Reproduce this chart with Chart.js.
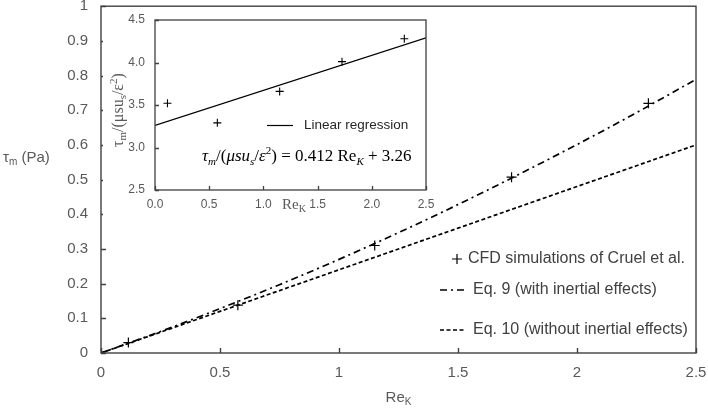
<!DOCTYPE html>
<html><head><meta charset="utf-8">
<script src="https://cdn.jsdelivr.net/npm/chart.js@4.4.0/dist/chart.umd.min.js"></script>
<style>
html,body{margin:0;padding:0;background:#fff;}
#wrap{position:relative;width:708px;height:413px;overflow:hidden;}
#main{position:absolute;left:0;top:0;}
#inset{position:absolute;left:103px;top:8px;}
</style></head><body>
<div id="wrap">
<canvas id="main" width="708" height="413"></canvas>
<canvas id="inset" width="340" height="210"></canvas>
</div>
<script>
// ---- data ----
const reK = [0.115, 0.575, 1.15, 1.725, 2.3];
const tauCFD = [0.03, 0.138, 0.31, 0.507, 0.72];
const eqRe = [0, 0.25, 0.5, 0.75, 1, 1.25, 1.5, 1.75, 2, 2.25, 2.5];
const tauEq9 = [0, 0.062, 0.128, 0.197, 0.270, 0.347, 0.428, 0.513, 0.601, 0.693, 0.789];
const tauEq10 = [0, 0.06, 0.12, 0.18, 0.24, 0.30, 0.36, 0.42, 0.48, 0.54, 0.60];
const mainXTicks = [0, 0.5, 1, 1.5, 2, 2.5];
const mainXLabels = ['0', '0.5', '1', '1.5', '2', '2.5'];
const mainYTicks = [0, 0.1, 0.2, 0.3, 0.4, 0.5, 0.6, 0.7, 0.8, 0.9, 1];
const mainYLabels = ['0', '0.1', '0.2', '0.3', '0.4', '0.5', '0.6', '0.7', '0.8', '0.9', '1'];

const insetRe = [0.115, 0.575, 1.15, 1.725, 2.3];
const insetNorm = [3.52, 3.29, 3.66, 4.01, 4.28];
const regRe = [0, 2.5];
const regNorm = [3.26, 4.29];
const insetXTicks = [0, 0.5, 1, 1.5, 2, 2.5];
const insetXLabels = ['0.0', '0.5', '1.0', '1.5', '2.0', '2.5'];
const insetYTicks = [2.5, 3, 3.5, 4, 4.5];
const insetYLabels = ['2.5', '3.0', '3.5', '4.0', '4.5'];

const legendLabels = ['CFD simulations of Cruel et al.', 'Eq. 9 (with inertial effects)', 'Eq. 10 (without inertial effects)'];

// ---- helpers ----
const SANS = '"Liberation Sans", Arial, sans-serif';
const SERIF = '"Liberation Serif", "Times New Roman", serif';
const AXIS = '#404040';
const TICK = '#595959';

function pts(xs, ys) { return xs.map((x, i) => ({x: x, y: ys[i]})); }

function drawRuns(ctx, x, y, runs, align) {
  let total = 0;
  runs.forEach(r => { ctx.font = r.font; total += ctx.measureText(r.t).width; });
  let cx = align === 'center' ? x - total / 2 : x;
  ctx.textAlign = 'left';
  ctx.textBaseline = 'alphabetic';
  runs.forEach(r => {
    ctx.font = r.font; ctx.fillStyle = r.color || '#000';
    ctx.fillText(r.t, cx, y + (r.dy || 0));
    cx += ctx.measureText(r.t).width;
  });
}

function noPadX(s, h) { s.height = h; s.paddingLeft = 0; s.paddingRight = 0; }
function noPadY(s, w) { s.width = w; s.paddingTop = 0; s.paddingBottom = 0; }

function framePlugin(id, tickLen, lw, bgWidth, extra) {
  return {
    id: id,
    beforeDraw(chart) {
      const ctx = chart.ctx;
      ctx.save(); ctx.fillStyle = '#fff';
      ctx.fillRect(0, 0, bgWidth || chart.width, chart.height); ctx.restore();
    },
    afterDatasetsDraw(chart) {
      const ctx = chart.ctx, a = chart.chartArea;
      const xs = chart.scales.x, ys = chart.scales.y;
      ctx.save();
      ctx.strokeStyle = AXIS; ctx.lineWidth = lw; ctx.setLineDash([]);
      ctx.strokeRect(a.left, a.top, a.right - a.left, a.bottom - a.top);
      ctx.beginPath();
      xs.ticks.forEach(t => {
        const px = Math.round(xs.getPixelForValue(t.value)) + 0.5;
        ctx.moveTo(px, a.bottom); ctx.lineTo(px, a.bottom - tickLen);
      });
      ys.ticks.forEach(t => {
        const py = Math.round(ys.getPixelForValue(t.value)) + 0.5;
        ctx.moveTo(a.left, py); ctx.lineTo(a.left + tickLen, py);
      });
      ctx.stroke();
      ctx.restore();
    },
    afterDraw(chart) { if (extra) extra(chart); }
  };
}

// ---- main chart ----
function mainExtra(chart) {
  const ctx = chart.ctx;
  ctx.save();
  drawRuns(ctx, 3, 162, [
    {t: 'τ', font: '15px ' + SANS, color: TICK},
    {t: 'm', font: '10px ' + SANS, color: TICK, dy: 3},
    {t: ' (Pa)', font: '15px ' + SANS, color: TICK}
  ], 'left');
  const xc = (chart.chartArea.left + chart.chartArea.right) / 2;
  drawRuns(ctx, xc, 402, [
    {t: 'Re', font: '15px ' + SANS, color: TICK},
    {t: 'K', font: '10px ' + SANS, color: TICK, dy: 3}
  ], 'center');
  const ds = chart.data.datasets;
  const ly = [259, 290, 330];
  ctx.strokeStyle = '#000'; ctx.lineWidth = 1.2; ctx.setLineDash([]);
  ctx.beginPath();
  ctx.moveTo(452, ly[0]); ctx.lineTo(462, ly[0]);
  ctx.moveTo(457, ly[0] - 5); ctx.lineTo(457, ly[0] + 5);
  ctx.stroke();
  [1, 2].forEach(i => {
    ctx.beginPath();
    ctx.lineWidth = ds[i].borderWidth;
    ctx.setLineDash(ds[i].borderDash);
    ctx.moveTo(440, ly[i]); ctx.lineTo(464, ly[i]);
    ctx.stroke();
  });
  ctx.setLineDash([]);
  ctx.font = '16px ' + SANS; ctx.fillStyle = AXIS;
  ctx.textBaseline = 'middle'; ctx.textAlign = 'left';
  ctx.fillText(ds[0].label, 468, ly[0]);
  ctx.fillText(ds[1].label, 473, ly[1]);
  ctx.fillText(ds[2].label, 473, ly[2]);
  ctx.restore();
}

new Chart(document.getElementById('main'), {
  type: 'scatter',
  data: {
    datasets: [
      {label: legendLabels[0], data: pts(reK, tauCFD), showLine: false,
       pointStyle: 'cross', pointRadius: 5, borderColor: '#000', borderWidth: 1.2},
      {label: legendLabels[1], data: pts(eqRe, tauEq9), showLine: true, pointRadius: 0,
       borderColor: '#000', borderWidth: 1.7, borderDash: [7, 4, 2, 4], fill: false,
       cubicInterpolationMode: 'monotone'},
      {label: legendLabels[2], data: pts(eqRe, tauEq10), showLine: true, pointRadius: 0,
       borderColor: '#000', borderWidth: 1.7, borderDash: [4, 2.5], fill: false}
    ]
  },
  options: {
    responsive: false, animation: false, devicePixelRatio: 1,
    layout: {padding: {top: 6, right: 12, left: 0, bottom: 0}},
    plugins: {legend: {display: false}, tooltip: {enabled: false}},
    scales: {
      x: {
        type: 'linear', min: 0, max: 2.5,
        afterBuildTicks: s => { s.ticks = mainXTicks.map(v => ({value: v})); },
        ticks: {callback: (v, i) => mainXLabels[i], color: TICK, font: {family: SANS, size: 15}, padding: 11, maxRotation: 0},
        grid: {display: false, drawTicks: false}, border: {display: false},
        afterFit: s => noPadX(s, 60)
      },
      y: {
        type: 'linear', min: 0, max: 1,
        afterBuildTicks: s => { s.ticks = mainYTicks.map(v => ({value: v})); },
        ticks: {callback: (v, i) => mainYLabels[i], color: TICK, font: {family: SANS, size: 15}, padding: 13},
        grid: {display: false, drawTicks: false}, border: {display: false},
        afterFit: s => noPadY(s, 101)
      }
    }
  },
  plugins: [framePlugin('mainFrame', 5, 1.4, 0, mainExtra)]
});

// ---- inset chart ----
function insetExtra(chart) {
  const ctx = chart.ctx;
  ctx.save();
  ctx.translate(20, 102);
  ctx.rotate(-Math.PI / 2);
  drawRuns(ctx, 0, 0, [
    {t: 'τ', font: '16px ' + SERIF, color: TICK},
    {t: 'm', font: '11px ' + SERIF, color: TICK, dy: 3},
    {t: '/(μsu', font: '16px ' + SERIF, color: TICK},
    {t: 's', font: '11px ' + SERIF, color: TICK, dy: 3},
    {t: '/ε', font: '16px ' + SERIF, color: TICK},
    {t: '2', font: '11px ' + SERIF, color: TICK, dy: -6},
    {t: ')', font: '16px ' + SERIF, color: TICK}
  ], 'center');
  ctx.restore();
  ctx.save();
  drawRuns(ctx, 191, 201, [
    {t: 'Re', font: '15px ' + SERIF, color: TICK},
    {t: 'K', font: '10px ' + SERIF, color: TICK, dy: 3}
  ], 'center');
  ctx.strokeStyle = '#000'; ctx.lineWidth = 1.2; ctx.setLineDash([]);
  ctx.beginPath(); ctx.moveTo(164, 117.5); ctx.lineTo(190, 117.5); ctx.stroke();
  ctx.font = '13.5px ' + SANS; ctx.fillStyle = '#262626';
  ctx.textBaseline = 'middle'; ctx.textAlign = 'left';
  ctx.fillText(chart.data.datasets[1].label, 201, 117);
  const I = 'italic 17px ' + SERIF, R = '17px ' + SERIF, Is = 'italic 11px ' + SERIF, Rs = '11px ' + SERIF;
  drawRuns(ctx, 99, 153, [
    {t: 'τ', font: I}, {t: 'm', font: Is, dy: 4},
    {t: '/(', font: R}, {t: 'μsu', font: I}, {t: 's', font: Is, dy: 4},
    {t: '/', font: R}, {t: 'ε', font: I}, {t: '2', font: Rs, dy: -7},
    {t: ') = 0.412 Re', font: R}, {t: 'K', font: Is, dy: 4},
    {t: ' + 3.26', font: R}
  ], 'left');
  ctx.restore();
}

new Chart(document.getElementById('inset'), {
  type: 'scatter',
  data: {
    datasets: [
      {label: 'CFD', data: pts(insetRe, insetNorm), showLine: false,
       pointStyle: 'cross', pointRadius: 4, borderColor: '#000', borderWidth: 1.1},
      {label: 'Linear regression', data: pts(regRe, regNorm), showLine: true, pointRadius: 0,
       borderColor: '#000', borderWidth: 1.2, fill: false}
    ]
  },
  options: {
    responsive: false, animation: false, devicePixelRatio: 1,
    layout: {padding: {top: 12, right: 17, left: 0, bottom: 0}},
    plugins: {legend: {display: false}, tooltip: {enabled: false}},
    scales: {
      x: {
        type: 'linear', min: 0, max: 2.5,
        afterBuildTicks: s => { s.ticks = insetXTicks.map(v => ({value: v})); },
        ticks: {callback: (v, i) => insetXLabels[i], color: TICK, font: {family: SANS, size: 12}, padding: 7, maxRotation: 0},
        grid: {display: false, drawTicks: false}, border: {display: false},
        afterFit: s => noPadX(s, 28)
      },
      y: {
        type: 'linear', min: 2.5, max: 4.5,
        afterBuildTicks: s => { s.ticks = insetYTicks.map(v => ({value: v})); },
        ticks: {callback: (v, i) => insetYLabels[i], color: TICK, font: {family: SANS, size: 12}, padding: 10},
        grid: {display: false, drawTicks: false}, border: {display: false},
        afterFit: s => noPadY(s, 52)
      }
    }
  },
  plugins: [framePlugin('insetFrame', 4, 1.3, 328, insetExtra)]
});
</script>
</body></html>
